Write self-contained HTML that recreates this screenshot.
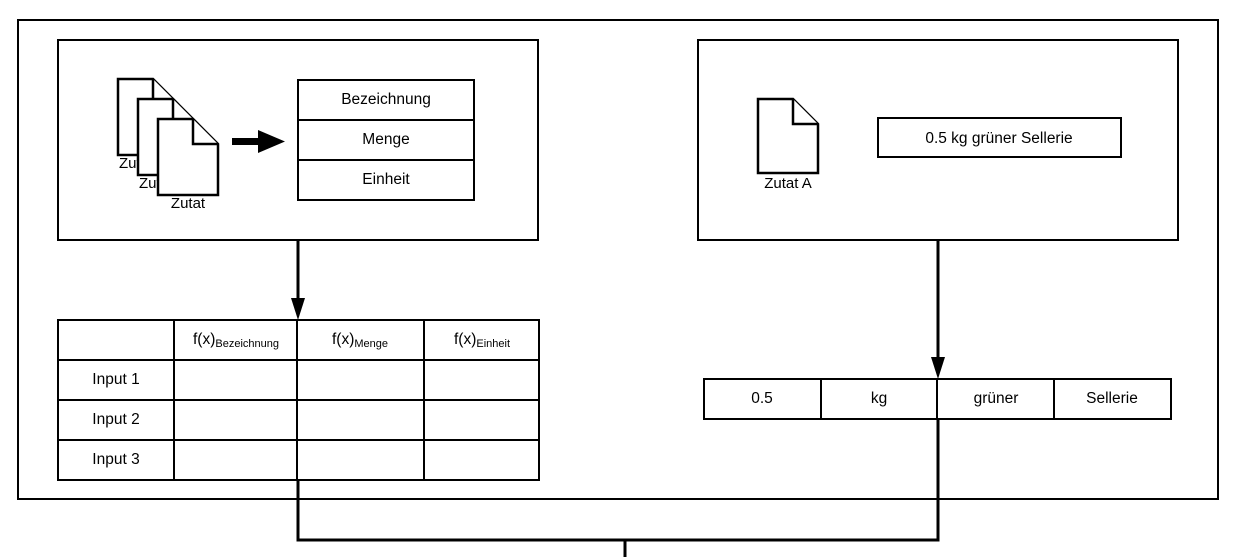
<!DOCTYPE html>
<html><head><meta charset="utf-8"><style>
html,body{margin:0;padding:0;background:#fff;}
svg{display:block;font-family:"Liberation Sans",sans-serif;}
</style></head><body>
<svg width="1241" height="557" viewBox="0 0 1241 557" xmlns="http://www.w3.org/2000/svg">
<g fill="none" stroke="#000" stroke-width="2">
<rect x="18" y="20" width="1200" height="479"/>
<rect x="58" y="40" width="480" height="200"/>
<rect x="698" y="40" width="480" height="200"/>
<rect x="298" y="80" width="176" height="120"/>
<line x1="298" y1="120" x2="474" y2="120"/><line x1="298" y1="160" x2="474" y2="160"/>
<rect x="878" y="118" width="243" height="39"/>
<rect x="58" y="320" width="481" height="160"/>
<line x1="58" y1="360" x2="539" y2="360"/><line x1="58" y1="400" x2="539" y2="400"/><line x1="58" y1="440" x2="539" y2="440"/>
<line x1="174" y1="320" x2="174" y2="480"/><line x1="297" y1="320" x2="297" y2="480"/><line x1="424" y1="320" x2="424" y2="480"/>
<rect x="704" y="379" width="467" height="40"/>
<line x1="821" y1="379" x2="821" y2="419"/><line x1="937" y1="379" x2="937" y2="419"/><line x1="1054" y1="379" x2="1054" y2="419"/>
</g>
<g fill="#fff" stroke="#000" stroke-width="2.5">
<path d="M118 79 H153 L178 104 V155 H118 Z"/><path d="M153 79 V104 H178"/>
</g>
<text x="119" y="168" font-size="15">Zutat</text>
<g fill="#fff" stroke="#000" stroke-width="2.5">
<path d="M138 99 H173 L198 124 V175 H138 Z"/><path d="M173 99 V124 H198"/>
</g>
<text x="139" y="188" font-size="15">Zutat</text>
<g fill="#fff" stroke="#000" stroke-width="2.5">
<path d="M158 119 H193 L218 144 V195 H158 Z"/><path d="M193 119 V144 H218"/>
</g>
<rect x="160" y="155" width="56" height="38" fill="#fff"/>
<text x="188" y="208" font-size="15" text-anchor="middle">Zutat</text>
<g fill="#fff" stroke="#000" stroke-width="2.5">
<path d="M758 99 H793 L818 124 V173 H758 Z"/><path d="M793 99 V124 H818"/>
</g>
<text x="788" y="188" font-size="15" text-anchor="middle">Zutat A</text>
<rect x="232" y="138" width="28" height="7" fill="#000"/>
<path d="M258 130 L285 141.5 L258 153 Z" fill="#000"/>
<g stroke="#000" stroke-width="3" fill="none">
<line x1="298" y1="240" x2="298" y2="300"/>
<line x1="938" y1="240" x2="938" y2="360"/>
<polyline points="298,480 298,540 938,540 938,419"/>
<line x1="625" y1="540" x2="625" y2="557"/>
</g>
<path d="M291 298 L305 298 L298 320 Z" fill="#000"/>
<path d="M931 357 L945 357 L938 379 Z" fill="#000"/>
<g font-size="15.5" text-anchor="middle" fill="#000">
<text x="386" y="104">Bezeichnung</text>
<text x="386" y="144">Menge</text>
<text x="386" y="184">Einheit</text>
<text x="999" y="143">0.5 kg grüner Sellerie</text>
<text x="116" y="384">Input 1</text>
<text x="116" y="424">Input 2</text>
<text x="116" y="464">Input 3</text>
<text x="762" y="403">0.5</text>
<text x="879" y="403">kg</text>
<text x="996" y="403">grüner</text>
<text x="1112" y="403">Sellerie</text>
<text x="236" y="344">f(x)<tspan font-size="11" dy="3">Bezeichnung</tspan></text>
<text x="360" y="344">f(x)<tspan font-size="11" dy="3">Menge</tspan></text>
<text x="482" y="344">f(x)<tspan font-size="11" dy="3">Einheit</tspan></text>
</g>
</svg>
</body></html>
